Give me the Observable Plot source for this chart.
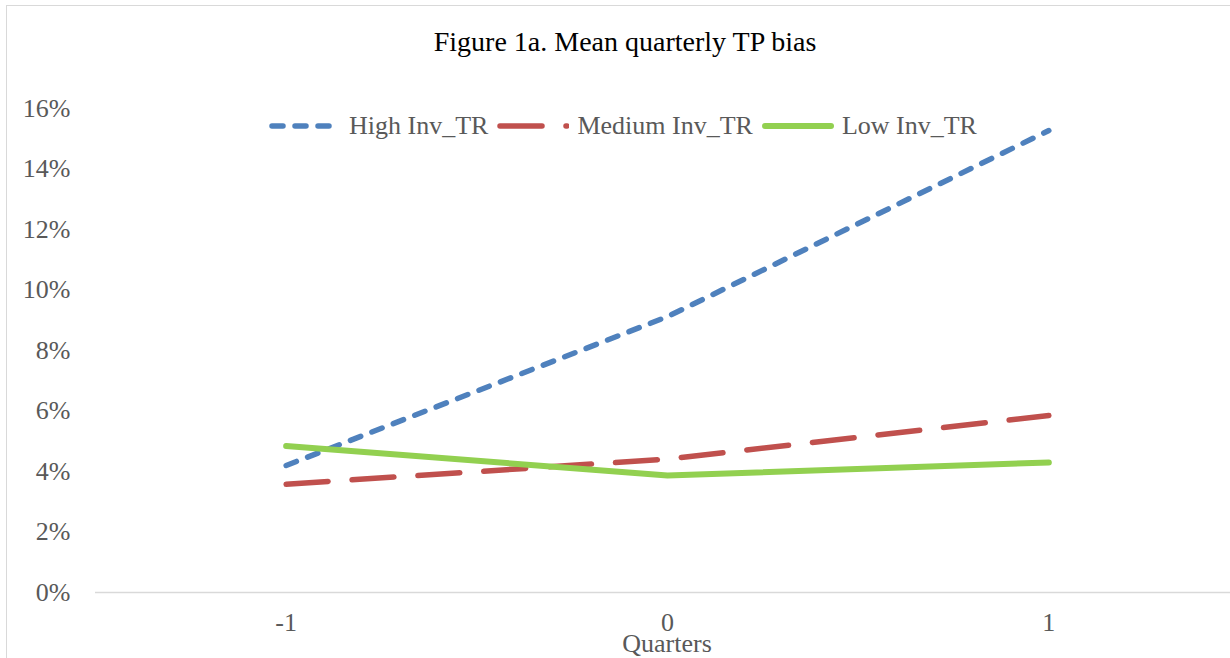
<!DOCTYPE html>
<html>
<head>
<meta charset="utf-8">
<script src="https://cdn.jsdelivr.net/npm/d3@7"></script>
<script src="https://cdn.jsdelivr.net/npm/@observablehq/plot@0.6"></script>
<style>
  html, body { margin: 0; padding: 0; background: #fff; }
  #wrap { position: relative; width: 1230px; height: 658px; overflow: hidden; font-family: "Liberation Serif", "Times New Roman", serif; }
  #frame { position: absolute; left: 6px; top: 5px; width: 1300px; height: 800px; border: 1.5px solid #d9d9d9; box-sizing: border-box; }
  #title { position: absolute; left: 0; width: 1250px; top: 28px; text-align: center; font-size: 28px; line-height: 28px; color: #000; }
  #xlabel { position: absolute; left: 0; width: 1334px; top: 632px; text-align: center; font-size: 26px; line-height: 24px; color: #595959; }
  #legend { position: absolute; left: 269px; top: 110px; display: flex; align-items: center; font-size: 26px; line-height: 32px; color: #595959; }
  .item { display: flex; align-items: center; margin-right: 9px; }
  .item svg { display: block; margin-right: 8px; }
  #chart { position: absolute; left: 0; top: 0; }
</style>
</head>
<body>
<div id="wrap">
  <div id="frame"></div>
  <div id="chart"></div>
  <div id="title"></div>
  <div id="legend"></div>
  <div id="xlabel"></div>
</div>
<script>
const titleText = "Figure 1a. Mean quarterly TP bias";
const xLabelText = "Quarters";
const quarters = [-1, 0, 1];
const seriesNames = ["High Inv_TR", "Medium Inv_TR", "Low Inv_TR"];
const highValues = [0.0420, 0.0912, 0.1527];
const mediumValues = [0.0358, 0.0441, 0.0585];
const lowValues = [0.0484, 0.0387, 0.0430];
const yTicks = [0, 0.02, 0.04, 0.06, 0.08, 0.10, 0.12, 0.14, 0.16];

const seriesStyles = [
  {color: "#4f81bd", dash: "11,12", width: 5.5, legendEnd: 69},
  {color: "#c0504d", dash: "42,24", width: 5.5, legendEnd: 70},
  {color: "#92d050", dash: null, width: 6, legendEnd: 69}
];
const seriesValues = [highValues, mediumValues, lowValues];

const rows = seriesNames.map((name, i) =>
  quarters.map((q, j) => ({series: name, q, v: seriesValues[i][j]}))
);

const lineMarks = rows.map((data, i) =>
  Plot.line(data, {
    x: "q", y: "v",
    stroke: seriesStyles[i].color,
    strokeWidth: seriesStyles[i].width,
    strokeDasharray: seriesStyles[i].dash || undefined,
    strokeLinecap: "round",
    strokeLinejoin: "round"
  })
);

const chart = Plot.plot({
  width: 1230,
  height: 658,
  marginLeft: 95,
  marginRight: 0,
  marginTop: 108,
  marginBottom: 66,
  style: {fontFamily: "Liberation Serif, Times New Roman, serif", fontSize: "26px", color: "#595959", background: "transparent", overflow: "visible"},
  x: {domain: [-1.5, 1.5], range: [95, 1239]},
  y: {domain: [0, 0.16]},
  marks: [
    Plot.ruleY([0], {stroke: "#d9d9d9", strokeWidth: 1.5}),
    Plot.axisY({ticks: yTicks, tickSize: 0, tickPadding: 25, tickFormat: d => Math.round(d * 100) + "%", label: null}),
    Plot.axisX({ticks: quarters, tickSize: 0, tickPadding: 20, tickFormat: d => String(d), label: null}),
    ...lineMarks
  ]
});
document.getElementById("chart").appendChild(chart);

document.getElementById("title").textContent = titleText;
document.getElementById("xlabel").textContent = xLabelText;

const legend = document.getElementById("legend");
seriesNames.forEach((name, i) => {
  const st = seriesStyles[i];
  const item = document.createElement("div");
  item.className = "item";
  const ns = "http://www.w3.org/2000/svg";
  const svg = document.createElementNS(ns, "svg");
  svg.setAttribute("width", "72");
  svg.setAttribute("height", "12");
  const ln = document.createElementNS(ns, "line");
  ln.setAttribute("x1", "3"); ln.setAttribute("x2", String(st.legendEnd));
  ln.setAttribute("y1", "6"); ln.setAttribute("y2", "6");
  ln.setAttribute("stroke", st.color);
  ln.setAttribute("stroke-width", st.width);
  ln.setAttribute("stroke-linecap", "round");
  if (st.dash) ln.setAttribute("stroke-dasharray", st.dash);
  svg.appendChild(ln);
  const span = document.createElement("span");
  span.textContent = name;
  item.appendChild(svg);
  item.appendChild(span);
  legend.appendChild(item);
});
</script>
</body>
</html>
